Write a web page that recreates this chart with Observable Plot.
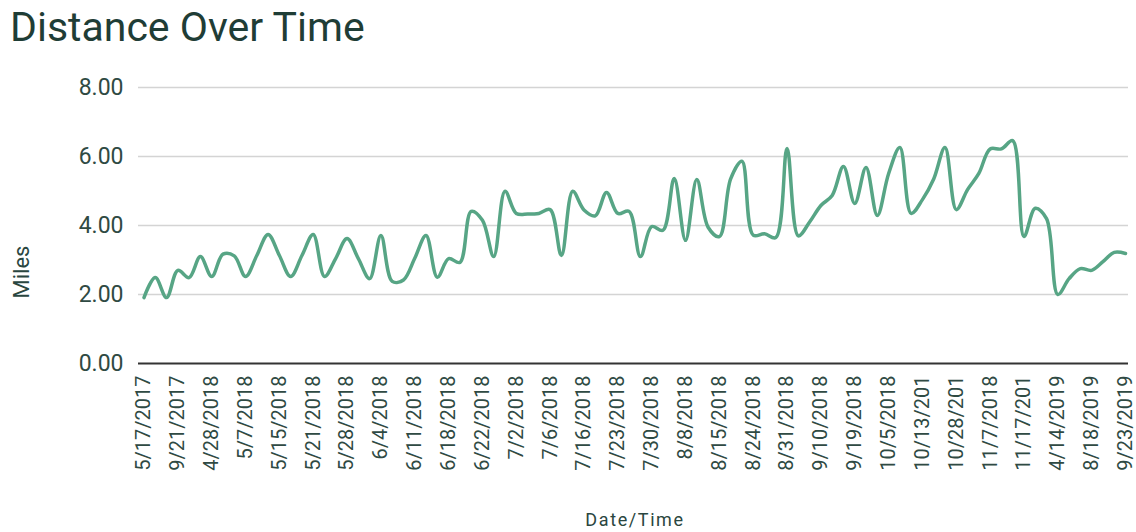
<!DOCTYPE html>
<html>
<head>
<meta charset="utf-8">
<script src="https://cdn.jsdelivr.net/npm/d3@7"></script>
<script src="https://cdn.jsdelivr.net/npm/@observablehq/plot@0.6"></script>
<style>
  body { margin: 0; background: #fff; font-family: Roboto, sans-serif; }
  #wrap { position: relative; width: 1136px; height: 532px; overflow: hidden; }
  #wrap svg { position: absolute; left: 0; top: 0; }
  .t { position: absolute; white-space: nowrap; line-height: 1; }
  #title { left: 10px; top: 7px; font-size: 41px; color: #1f3d36; }
  #ylab { left: 22px; top: 272px; font-size: 22px; color: #2a4640; transform: translate(-50%, -50%) rotate(-90deg); }
  #xlab { left: 635px; top: 511px; font-size: 18px; letter-spacing: 1.6px; color: #2a4640; transform: translateX(-50%); }
</style>
</head>
<body>
<div id="wrap">
  <div class="t" id="title">Distance Over Time</div>
  <div class="t" id="ylab">Miles</div>
  <div class="t" id="xlab">Date/Time</div>
</div>
<script>
const labels = ["5/17/2017","9/21/2017","4/28/2018","5/7/2018","5/15/2018","5/21/2018","5/28/2018","6/4/2018","6/11/2018","6/18/2018","6/22/2018","7/2/2018","7/6/2018","7/16/2018","7/23/2018","7/30/2018","8/8/2018","8/15/2018","8/24/2018","8/31/2018","9/10/2018","9/19/2018","10/5/2018","10/13/201","10/28/201","11/7/2018","11/17/201","4/14/2019","8/18/2019","9/23/2019"];

const miles = [
  1.91, 2.49, 1.91, 2.70, 2.49, 3.10, 2.52, 3.17, 3.12, 2.52,
  3.13, 3.74, 3.13, 2.52, 3.13, 3.74, 2.52, 3.05, 3.62, 3.04,
  2.46, 3.71, 2.38, 2.42, 3.05, 3.71, 2.50, 3.04, 2.93, 4.41,
  4.15, 3.10, 4.99, 4.35, 4.33, 4.35, 4.46, 3.13, 4.99, 4.45,
  4.28, 4.96, 4.35, 4.41, 3.10, 3.97, 3.86, 5.36, 3.57, 5.33,
  3.95, 3.68, 5.35, 5.86, 3.72, 3.76, 3.65, 6.23, 3.70, 4.10,
  4.58, 4.87, 5.71, 4.64, 5.68, 4.29, 5.50, 6.26, 4.35, 4.75,
  5.35, 6.26, 4.46, 5.04, 5.51, 6.22, 6.22, 6.46, 3.68, 4.50,
  4.20, 2.00, 2.46, 2.75, 2.70, 2.95, 3.22, 3.19
];

const yTicks = [0, 2, 4, 6, 8];
const labelStep = 3;

const data = miles.map((v, i) => ({i, v}));
const tickIdx = labels.map((d, k) => k * labelStep);

const chart = Plot.plot({
  width: 1136,
  height: 532,
  marginTop: 87,
  marginBottom: 169,
  marginLeft: 138,
  marginRight: 8,
  style: {fontFamily: "Roboto, sans-serif", background: "transparent", color: "#2f4a43"},
  x: {range: [143.5, 1125], axis: null},
  y: {domain: [0, 8], axis: null},
  marks: [
    Plot.ruleY(yTicks.filter(d => d > 0), {stroke: "#d4d4d4", strokeWidth: 1.5}),
    Plot.axisY(yTicks, {tickSize: 0, tickPadding: 15, tickFormat: d3.format(".2f"), fontSize: 23, label: null}),
    Plot.axisX(tickIdx, {tickSize: 0, tickPadding: 12, tickRotate: -90, tickFormat: i => labels[i / labelStep], fontSize: 20, label: null}),
    Plot.ruleY([0], {stroke: "#333", strokeWidth: 2}),
    Plot.line(data, {x: "i", y: "v", stroke: "#57a585", strokeWidth: 3.5, curve: "catmull-rom"})
  ]
});
document.getElementById("wrap").prepend(chart);
</script>
</body>
</html>
